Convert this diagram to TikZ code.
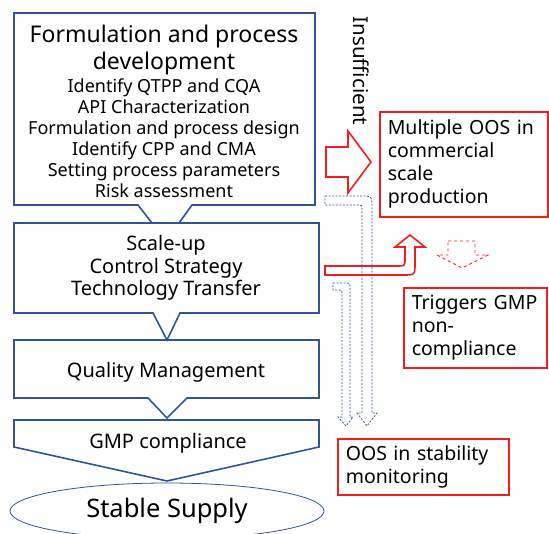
\documentclass[tikz,border=0pt]{standalone}
\usepackage{fontspec}
\setmainfont{Noto Sans}
\usetikzlibrary{positioning, shapes.geometric}

\definecolor{flowblue}{RGB}{47,85,151}
\definecolor{warnred}{RGB}{240,30,30}

\begin{document}
\begin{tikzpicture}[x=1pt, y=-1pt,
   flowbox/.style={draw=flowblue, line width=1.6pt},
   bigtxt/.style={font=\fontsize{23}{27}\selectfont, align=center},
   midtxt/.style={font=\fontsize{20}{22.5}\selectfont, align=center},
   smalltxt/.style={font=\fontsize{18}{21}\selectfont, align=center},
   oosbox/.style={draw=warnred, line width=1.6pt, anchor=north west, align=left,
                  inner xsep=8pt, font=\fontsize{19.5}{23}\selectfont},
   redarrow/.style={draw=warnred, line width=1.6pt},
   dasharrow/.style={draw=flowblue, line width=0.8pt, dash pattern=on 2pt off 1.5pt}]
   \useasboundingbox (0,0) rectangle (549,533);

   % flow of the main steps
   \draw[flowbox] (14,13) -- (315,13) -- (315,205) -- (192,205) -- (179,223)
      -- (152,223) -- (138,205) -- (14,205) -- cycle;
   \draw[flowbox] (14,223) -- (319,223) -- (319,313) -- (180,313) -- (167,340)
      -- (153,313) -- (14,313) -- cycle;
   \draw[flowbox] (14,340) -- (319,340) -- (319,398) -- (187,398) -- (167,418)
      -- (148,398) -- (14,398) -- cycle;
   \draw[flowbox] (14,420) -- (319,420) -- (319,447) -- (167,481) -- (14,447) -- cycle;

   \node (fd)[bigtxt] at (164,50) {Formulation and process\\development};
   \node (fdsteps)[smalltxt] at (164,138) {Identify QTPP and CQA\\API Characterization\\
      Formulation and process design\\Identify CPP and CMA\\
      Setting process parameters\\Risk assessment};
   \node (su)[midtxt] at (166,268) {Scale-up\\Control Strategy\\Technology Transfer};
   \node (qm)[midtxt] at (166,372) {Quality Management};
   \node (gmp)[midtxt] at (168,443) {GMP compliance};
   \node (ss)[ellipse, draw=flowblue, line width=0.8pt, minimum width=314, minimum height=56,
      font=\fontsize{25.5}{28}\selectfont] at (167,511) {Stable Supply};

   % what goes wrong
   \node (ins)[rotate=-90, font=\fontsize{20.5}{22}\selectfont] at (361,71) {Insufficient};
   \node (moos)[oosbox, text width=152, minimum height=105] at (379,111)
      {Multiple OOS in\\commercial\\scale\\production};
   \node (trig)[oosbox, text width=127, minimum height=80] at (403,287)
      {Triggers GMP\\non-\\compliance};
   \node (soos)[oosbox, text width=155, minimum height=56] at (337,438)
      {OOS in stability\\monitoring};

   \draw[redarrow] (326,147) -- (348,147) -- (348,131) -- (371,162) -- (348,193)
      -- (348,177) -- (326,177) -- cycle;
   \draw[dasharrow] (325,196) -- (360,196) .. controls (372,196) .. (372,208) -- (372,413)
      -- (377,413) -- (367,426) -- (357,413) -- (362,413) -- (362,210)
      .. controls (362,205) .. (357,205) -- (325,205) -- cycle;
   \draw[dasharrow] (333,283) -- (345,283) .. controls (350,283) .. (350,288) -- (350,417)
      -- (353,417) -- (346,426) -- (338,417) -- (342,417) -- (342,293)
      .. controls (342,290) .. (339,290) -- (333,290) -- cycle;
   \draw[redarrow] (325,266) -- (397,266) .. controls (405,266) .. (405,258) -- (405,247)
      -- (395,247) -- (410,235) -- (425,247) -- (415,247) -- (415,263)
      .. controls (415,275) .. (403,275) -- (325,275) -- cycle;
   \draw[redarrow, line width=0.9pt, dashed] (448,241) -- (475,241) -- (475,255) -- (488,255)
      -- (462,268) -- (437,255) -- (448,255) -- cycle;
\end{tikzpicture}
\end{document}
